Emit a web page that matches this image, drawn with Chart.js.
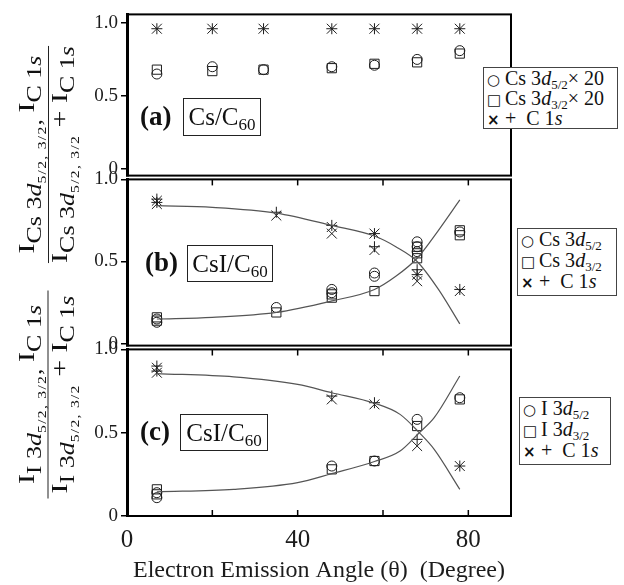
<!DOCTYPE html>
<html>
<head>
<meta charset="utf-8">
<script src="https://cdn.jsdelivr.net/npm/chart.js@4.4.1/dist/chart.umd.min.js"></script>
<style>
  html, body { margin: 0; padding: 0; background: #fff; }
  #wrap { position: relative; width: 624px; height: 585px; overflow: hidden;
          font-family: "Liberation Serif", "Times New Roman", serif; color: #111; }
  #wrap canvas { position: absolute; left: 0; }
  .tag { position: absolute; font-weight: bold; font-size: 27px; line-height: 27px; }
  .box { position: absolute; border: 1px solid #222; font-size: 25px; line-height: 25px;
         box-sizing: border-box; text-align: center; padding-top: 5px; }
  .box sub { font-size: 17px; vertical-align: -5px; line-height: 0; }
  .legend { position: absolute; border: 1px solid #444; background: #fff; font-size: 20px;
            box-sizing: border-box; padding: 0 0 0 3px; white-space: nowrap; }
  .legend .row { height: 21px; line-height: 21px; }
  .legend sub { font-size: 13px; vertical-align: -4px; line-height: 0; }
  .legend .sym { font-family: "DejaVu Sans", sans-serif; font-size: 15px; display: inline-block; width: 18px; }
  .legend .x { font-family: "DejaVu Sans", sans-serif; font-weight: bold; font-size: 15px; }
  .frac { position: absolute; transform: rotate(-90deg) scaleX(1.3); transform-origin: 50% 50%; white-space: nowrap; }
  .frac .num, .frac .den { height: 32px; line-height: 22px; text-align: center; font-size: 23px; }
  .frac .bar { border-top: 1.5px solid #222; }
  .frac .s { font-size: 20px; position: relative; top: 7px; }
  .frac .ss { font-size: 12px; position: relative; top: 5px; letter-spacing: 1px; }
</style>
</head>
<body>
<div id="wrap">
  <canvas id="chart-a" width="624" height="190" style="top:0"></canvas>
  <canvas id="chart-b" width="624" height="195" style="top:165px"></canvas>
  <canvas id="chart-c" width="624" height="250" style="top:335px"></canvas>

  <div class="frac" style="left:-35px; top:122px; width:167px;">
    <div class="num">I<span class="s">Cs 3<i>d</i><span class="ss">5/2, 3/2</span>, </span>I<span class="s">C 1<i>s</i></span></div>
    <div class="bar"></div>
    <div class="den">I<span class="s">Cs 3<i>d</i><span class="ss">5/2, 3/2</span></span> + I<span class="s">C 1<i>s</i></span></div>
  </div>
  <div class="frac" style="left:-32px; top:362px; width:160px;">
    <div class="num">I<span class="s">I 3<i>d</i><span class="ss">5/2, 3/2</span>, </span>I<span class="s">C 1<i>s</i></span></div>
    <div class="bar"></div>
    <div class="den">I<span class="s">I 3<i>d</i><span class="ss">5/2, 3/2</span></span> + I<span class="s">C 1<i>s</i></span></div>
  </div>

  <div class="tag" style="left:140px; top:103px;">(a)</div>
  <div class="box" style="left:183px; top:98px; width:78px; height:38px;"><span>Cs/C<sub>60</sub></span></div>
  <div class="tag" style="left:145px; top:249px;">(b)</div>
  <div class="box" style="left:187px; top:245px; width:86px; height:37px;"><span>CsI/C<sub>60</sub></span></div>
  <div class="tag" style="left:140px; top:418px;">(c)</div>
  <div class="box" style="left:180px; top:414px; width:88px; height:37px;"><span>CsI/C<sub>60</sub></span></div>

  <div class="legend" style="left:483px; top:67px; width:135px; height:62px;">
    <div class="row" style="height:20px;line-height:20px"><span class="sym">○</span>Cs 3<i>d</i><sub>5/2</sub>× 20</div>
    <div class="row" style="height:20px;line-height:20px"><span class="sym">□</span>Cs 3<i>d</i><sub>3/2</sub>× 20</div>
    <div class="row" style="height:20px;line-height:20px"><span class="sym"><span class="x">×</span></span>+&nbsp; C 1<i>s</i></div>
  </div>
  <div class="legend" style="left:517px; top:228px; width:100px; height:68px;">
    <div class="row"><span class="sym">○</span>Cs 3<i>d</i><sub>5/2</sub></div>
    <div class="row"><span class="sym">□</span>Cs 3<i>d</i><sub>3/2</sub></div>
    <div class="row"><span class="sym"><span class="x">×</span></span>+&nbsp; C 1<i>s</i></div>
  </div>
  <div class="legend" style="left:519px; top:397px; width:92px; height:68px;">
    <div class="row"><span class="sym">○</span>I 3<i>d</i><sub>5/2</sub></div>
    <div class="row"><span class="sym">□</span>I 3<i>d</i><sub>3/2</sub></div>
    <div class="row"><span class="sym"><span class="x">×</span></span>+&nbsp; C 1<i>s</i></div>
  </div>
</div>

<script>
// ---- data (angle in degrees, normalised intensity) ----
const yTicks = [0, 0.5, 1.0];
const xTicks = [0, 20, 40, 60, 80];

// (a) Cs/C60
const aAngle = [7, 20, 32, 48, 58, 68, 78];
const aCs52  = [0.65, 0.70, 0.68, 0.70, 0.71, 0.75, 0.81];
const aCs32  = [0.68, 0.67, 0.68, 0.69, 0.72, 0.73, 0.79];
const aC1sX  = [0.96, 0.96, 0.96, 0.96, 0.96, 0.96, 0.96];
const aC1sP  = [0.96, 0.96, 0.96, 0.96, 0.96, 0.96, 0.96];

// (b) CsI/C60, Cs 3d
const bAngleCirc = [7, 7, 35, 48, 48, 58, 58, 68, 68, 68, 78];
const bCs52      = [0.13, 0.15, 0.22, 0.31, 0.33, 0.43, 0.41, 0.62, 0.59, 0.56, 0.68];
const bAngleSq   = [7, 7, 35, 48, 48, 58, 68, 68, 68, 78, 78];
const bCs32      = [0.14, 0.16, 0.19, 0.28, 0.30, 0.32, 0.59, 0.55, 0.52, 0.66, 0.69];
const bAngleX    = [7, 7, 35, 48, 48, 58, 58, 68, 68, 78];
const bC1sX      = [0.87, 0.85, 0.78, 0.71, 0.67, 0.67, 0.57, 0.42, 0.38, 0.32];
const bAngleP    = [7, 7, 35, 48, 58, 58, 68, 68, 78];
const bC1sP      = [0.86, 0.88, 0.80, 0.72, 0.67, 0.59, 0.45, 0.42, 0.33];
const bFitAngle  = [7, 20, 35, 48, 58, 63, 68, 73, 78];
const bFitDown   = [0.84, 0.83, 0.795, 0.72, 0.655, 0.59, 0.50, 0.33, 0.12];
const bFitUp     = [0.15, 0.16, 0.19, 0.26, 0.33, 0.41, 0.52, 0.69, 0.875];

// (c) CsI/C60, I 3d
const cAngle    = [7, 7, 48, 58, 68, 78];
const cI52      = [0.11, 0.14, 0.30, 0.33, 0.58, 0.71];
const cI32      = [0.13, 0.16, 0.28, 0.33, 0.54, 0.70];
const cC1sX     = [0.89, 0.86, 0.70, 0.67, 0.42, 0.30];
const cC1sP     = [0.90, 0.87, 0.72, 0.68, 0.46, 0.30];
const cFitAngle = [7, 25, 40, 48, 58, 64, 68.5, 72, 78];
const cFitDown  = [0.855, 0.835, 0.79, 0.74, 0.677, 0.61, 0.50, 0.40, 0.16];
const cFitUp    = [0.145, 0.16, 0.20, 0.254, 0.327, 0.39, 0.50, 0.59, 0.84];

const SERIF = '"Liberation Serif", "Times New Roman", serif';
const INK = '#1c1c1c';

const pts = (xs, ys) => xs.map((x, i) => ({ x, y: ys[i] }));

const mark = (data, style, r) => ({
  data, pointStyle: style, pointRadius: r, pointHoverRadius: r,
  borderColor: INK, backgroundColor: 'rgba(0,0,0,0)', borderWidth: 1, showLine: false
});
const fit = (xs, ys) => ({
  data: pts(xs, ys), showLine: true, pointRadius: 0, borderColor: '#555',
  borderWidth: 1.2, cubicInterpolationMode: 'monotone', fill: false
});

// box round the plot area + inward x ticks
const framePlugin = {
  id: 'frame',
  afterDatasetsDraw(chart, args, opts) {
    const { ctx, chartArea: a, scales: { x } } = chart;
    ctx.save();
    ctx.strokeStyle = '#000';
    ctx.lineWidth = 2;
    ctx.strokeRect(a.left, a.top, a.right - a.left, a.bottom - a.top);
    ctx.lineWidth = 1.5;
    xTicks.slice(1).forEach(v => {
      const px = x.getPixelForValue(v);
      ctx.beginPath();
      if (opts.top) { ctx.moveTo(px, a.top); ctx.lineTo(px, a.top + 6); }
      if (opts.bottom) { ctx.moveTo(px, a.bottom); ctx.lineTo(px, a.bottom - 6); }
      ctx.stroke();
    });
    ctx.restore();
  }
};

function makePanel(id, datasets, cfg) {
  const showX = !!cfg.showX;
  return new Chart(document.getElementById(id), {
    type: 'scatter',
    data: { datasets },
    plugins: [framePlugin],
    options: {
      responsive: false, animation: false,
      layout: { padding: { left: 0, right: 113, top: cfg.padTop, bottom: cfg.padBottom } },
      plugins: { legend: { display: false }, tooltip: { enabled: false }, frame: { top: cfg.topTicks, bottom: showX } },
      scales: {
        x: {
          type: 'linear', min: 0, max: 90, display: showX,
          afterBuildTicks: s => { s.ticks = xTicks.map(v => ({ value: v })); },
          afterFit: s => { if (showX) s.height = 69; },
          grid: { drawOnChartArea: false, drawTicks: false },
          border: { display: true, color: '#000', width: 2 },
          ticks: {
            autoSkip: false, maxRotation: 0, padding: 9, color: INK,
            font: { family: SERIF, size: 25 },
            callback: v => v % 40 === 0 ? String(v) : ''
          },
          title: {
            display: true, text: 'Electron Emission Angle (θ)  (Degree)', color: INK,
            font: { family: SERIF, size: 24 }, padding: { top: 0, bottom: 0 }
          }
        },
        y: {
          min: cfg.yMin, max: cfg.yMax,
          afterBuildTicks: s => { s.ticks = yTicks.map(v => ({ value: v })); },
          afterFit: s => { s.width = 127; },
          grid: { drawOnChartArea: false, tickLength: 6, color: '#000', lineWidth: 1.5 },
          border: { color: '#000', width: 3 },
          ticks: {
            padding: 3, color: INK, font: { family: SERIF, size: 19 },
            callback: v => v === 0 ? '0' : v.toFixed(1)
          }
        }
      }
    }
  });
}

makePanel('chart-a', [
  mark(pts(aAngle, aCs52), 'circle', 5),
  mark(pts(aAngle, aCs32), 'rect', 6.5),
  mark(pts(aAngle, aC1sX), 'crossRot', 7),
  mark(pts(aAngle, aC1sP), 'cross', 5.5)
], { padTop: 7, padBottom: 13, yMin: -0.045, yMax: 1.058, topTicks: false });

makePanel('chart-b', [
  fit(bFitAngle, bFitDown),
  fit(bFitAngle, bFitUp),
  mark(pts(bAngleCirc, bCs52), 'circle', 5),
  mark(pts(bAngleSq, bCs32), 'rect', 6.5),
  mark(pts(bAngleX, bC1sX), 'crossRot', 7),
  mark(pts(bAngleP, bC1sP), 'cross', 5.5)
], { padTop: 12, padBottom: 12, yMin: -0.012, yMax: 1.0, topTicks: true });

makePanel('chart-c', [
  fit(cFitAngle, cFitDown),
  fit(cFitAngle, cFitUp),
  mark(pts(cAngle, cI52), 'circle', 5),
  mark(pts(cAngle, cI32), 'rect', 6.5),
  mark(pts(cAngle, cC1sX), 'crossRot', 7),
  mark(pts(cAngle, cC1sP), 'cross', 5.5)
], { padTop: 13, padBottom: 0, yMin: 0, yMax: 1.0, topTicks: true, showX: true });
</script>
</body>
</html>
